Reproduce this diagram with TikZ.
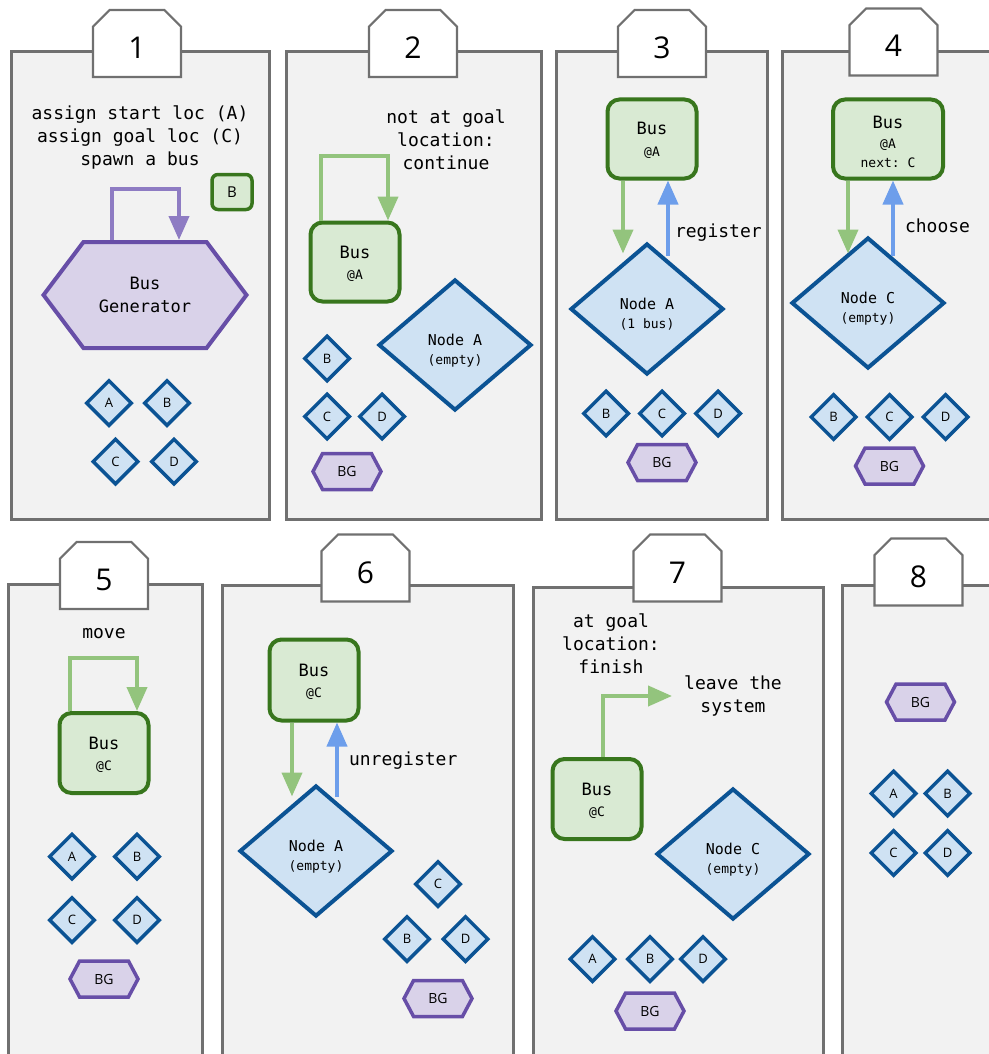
\documentclass[tikz,border=0pt]{standalone}
\usepackage{fontspec}
\setmainfont{Open Sans}
\setmonofont{DejaVu Sans Mono}
\usepackage{xcolor}
\usetikzlibrary{
    positioning,
    arrows.meta,
    shapes.geometric,
    shapes.misc,
    shapes.symbols,
    calc
}

\definecolor{panelfill}{HTML}{F2F2F2}
\definecolor{framegray}{HTML}{707070}
\definecolor{busfill}{HTML}{D9EAD3}
\definecolor{busline}{HTML}{38761D}
\definecolor{arrgreen}{HTML}{93C47D}
\definecolor{arrblue}{HTML}{6D9EEB}
\definecolor{stopfill}{HTML}{CFE2F3}
\definecolor{stopline}{HTML}{0B5394}
\definecolor{genfill}{HTML}{D9D2E9}
\definecolor{genline}{HTML}{674EA7}
\definecolor{arrpurple}{HTML}{8E7CC3}

\newcommand{\subtxt}[1]{{\fontsize{13}{16}\selectfont #1}}

\begin{document}
\begin{tikzpicture}[x=1pt, y=-1pt,
    panel/.style={draw=framegray, fill=panelfill, line width=3pt},
    tab/.style={chamfered rectangle, chamfered rectangle corners={north west,north east},
                chamfered rectangle xsep=8pt, chamfered rectangle ysep=10pt,
                draw=framegray, fill=white, line width=2.2pt, inner sep=0pt,
                minimum width=88pt, minimum height=67pt,
                font=\fontsize{30}{30}\selectfont, text height=30pt, text depth=0pt},
    note/.style={font=\ttfamily\fontsize{18}{23}\selectfont, align=center, inner sep=0pt},
    lbl/.style={font=\ttfamily\fontsize{18}{23}\selectfont, inner sep=0pt},
    bus/.style={draw=busline, fill=busfill, line width=4pt, rounded corners=12pt,
                minimum width=89pt, minimum height=79pt, inner sep=0pt, align=center,
                font=\ttfamily\fontsize{17}{21}\selectfont, text height=38pt, text depth=4pt},
    busmini/.style={draw=busline, fill=busfill, line width=3.5pt, rounded corners=6pt,
                minimum width=40pt, minimum height=35pt, inner sep=0pt,
                font=\fontsize{15}{15}\selectfont},
    stop/.style={diamond, aspect=1.17, draw=stopline, fill=stopfill, line width=4pt,
                minimum width=153pt, minimum height=131pt, inner sep=0pt, align=center,
                font=\ttfamily\fontsize{15}{19}\selectfont, text height=42pt, text depth=4pt},
    stopsm/.style={diamond, aspect=1, draw=stopline, fill=stopfill, line width=3.5pt,
                minimum width=46pt, minimum height=46pt, inner sep=0pt,
                font=\fontsize{13}{13}\selectfont},
    gen/.style={signal, signal to=west and east, signal pointer angle=106,
                draw=genline, fill=genfill, line width=4pt, inner sep=0pt,
                minimum width=203pt, minimum height=106pt, align=center,
                font=\ttfamily\fontsize{17}{23}\selectfont},
    gensm/.style={signal, signal to=west and east, signal pointer angle=124,
                draw=genline, fill=genfill, line width=3.5pt, inner sep=0pt,
                minimum width=68pt, minimum height=36pt,
                font=\fontsize{14}{14}\selectfont},
    garr/.style={draw=arrgreen, line width=4pt, -{Triangle[length=24pt,width=20pt]}},
    barr/.style={draw=arrblue, line width=4pt, -{Triangle[length=24pt,width=20pt]}},
    parr/.style={draw=arrpurple, line width=4pt, -{Triangle[length=24pt,width=20pt]}}]

    \useasboundingbox (0,0) rectangle (988,1054);

    % === 1: spawn ===
    \draw[panel] (11,52) rectangle (269,519);
    \node[tab] (t1) at (137,43.5) {1};
    \node[note] (say1) at (140,137) {assign start loc (A)\\assign goal loc (C)\\spawn a bus};
    \node[busmini] (bb1) at (232,192) {B};
    \node[gen] (gen1) at (145,295) {Bus\\Generator};
    \draw[parr] ($(gen1.north)+(-33,0)$) -- ++(0,-51) -| ($(gen1.north)+(34,0)$);
    \node[stopsm] (a1) at (109,403) {A};
    \node[stopsm] (b1) at (167,403) {B};
    \node[stopsm] (c1) at (115.5,461.5) {C};
    \node[stopsm] (d1) at (174,461.5) {D};

    % === 2: continue ===
    \draw[panel] (286,52) rectangle (541,519);
    \node[tab] (t2) at (413,43.5) {2};
    \node[note] (say2) at (446,140) {not at goal\\location:\\continue};
    \node[bus] (b2) at (355,262) {Bus\\\subtxt{@A}};
    \draw[garr] ($(b2.north)+(-34,0)$) -- ++(0,-65) -| ($(b2.north)+(33,0)$);
    \node[stop] (n2) at (455,345) {Node A\\\subtxt{(empty)}};
    \node[stopsm] (sb2) at (327,358.5) {B};
    \node[stopsm] (sc2) at (327,416.5) {C};
    \node[stopsm] (sd2) at (382,416.5) {D};
    \node[gensm] (bg2) at (347,471.5) {BG};

    % === 3: register ===
    \draw[panel] (556,52) rectangle (767,519);
    \node[tab] (t3) at (662,43.5) {3};
    \node[bus] (b3) at (652,139) {Bus\\\subtxt{@A}};
    \node[stop] (n3) at (647,309) {Node A\\\subtxt{(1 bus)}};
    \draw[garr] ($(b3.south)+(-29,0)$) -- ($(b3.south |- n3.north)+(-29,12)$);
    \draw[barr] ($(b3.south |- n3.north)+(16,14)$) -- node[lbl, pos=0.3, right=5pt]{register} ($(b3.south)+(16,0)$);
    \node[stopsm] (sb3) at (606,413.5) {B};
    \node[stopsm] (sc3) at (662,413.5) {C};
    \node[stopsm] (sd3) at (718,413.5) {D};
    \node[gensm] (bg3) at (662,462.5) {BG};

    % === 4: choose ===
    \draw[panel] (782,52) rectangle (995,519);
    \node[tab] (t4) at (893.5,42) {4};
    \node[bus, minimum width=110pt, text height=60pt] (b4) at (888,139) {Bus\\\subtxt{@A}\\[-3pt]\subtxt{next: C}};
    \node[stop] (n4) at (868,303) {Node C\\\subtxt{(empty)}};
    \draw[garr] ($(b4.south)+(-40,0)$) -- ($(b4.south |- n4.north)+(-40,18)$);
    \draw[barr] ($(b4.south |- n4.north)+(5,20)$) -- node[lbl, pos=0.4, right=10pt]{choose} ($(b4.south)+(5,0)$);
    \node[stopsm] (sb4) at (833.5,417) {B};
    \node[stopsm] (sc4) at (889.5,417) {C};
    \node[stopsm] (sd4) at (945.5,417) {D};
    \node[gensm] (bg4) at (889.5,466) {BG};

    % === 5: move ===
    \draw[panel] (8,584) rectangle (202,1064);
    \node[tab] (t5) at (104,575.5) {5};
    \node[note] (say5) at (104,634) {move};
    \node[bus, minimum height=80pt] (b5) at (104,753) {Bus\\\subtxt{@C}};
    \draw[garr] ($(b5.north)+(-34,0)$) -- ++(0,-53) -| ($(b5.north)+(33,0)$);
    \node[stopsm] (sa5) at (72,856.5) {A};
    \node[stopsm] (sb5) at (137,856.5) {B};
    \node[stopsm] (sc5) at (72,920) {C};
    \node[stopsm] (sd5) at (137,920) {D};
    \node[gensm] (bg5) at (104,979) {BG};

    % === 6: unregister ===
    \draw[panel] (222,585) rectangle (513,1064);
    \node[tab] (t6) at (365.5,568) {6};
    \node[bus, minimum height=81pt] (b6) at (314,680) {Bus\\\subtxt{@C}};
    \node[stop] (n6) at (316,851) {Node A\\\subtxt{(empty)}};
    \draw[garr] ($(b6.south)+(-22,0)$) -- ($(b6.south |- n6.north)+(-22,13)$);
    \draw[barr] ($(b6.south |- n6.north)+(23,13)$) -- node[lbl, pos=0.49, right=10pt]{unregister} ($(b6.south)+(23,0)$);
    \node[stopsm] (sc6) at (438,884) {C};
    \node[stopsm] (sb6) at (407,939) {B};
    \node[stopsm] (sd6) at (465.5,939) {D};
    \node[gensm] (bg6) at (438,998.5) {BG};

    % === 7: finish ===
    \draw[panel] (533,587) rectangle (823,1064);
    \node[tab] (t7) at (677.5,568) {7};
    \node[note] (say7) at (611,644) {at goal\\location:\\finish};
    \node[note] (lv) at (733,696) {leave the\\system};
    \node[bus, minimum height=80pt] (b7) at (597,799) {Bus\\\subtxt{@C}};
    \draw[garr] ($(b7.north)+(6,0)$) |- ($(lv.west)+(-12,0)$);
    \node[stop] (n7) at (733,854) {Node C\\\subtxt{(empty)}};
    \node[stopsm] (sa7) at (592.5,959) {A};
    \node[stopsm] (sb7) at (650,959) {B};
    \node[stopsm] (sd7) at (703,959) {D};
    \node[gensm] (bg7) at (650,1011) {BG};

    % === 8: done ===
    \draw[panel] (842,585) rectangle (995,1064);
    \node[tab] (t8) at (918.5,572) {8};
    \node[gensm] (bg8) at (920.5,702) {BG};
    \node[stopsm] (sa8) at (893.5,793.5) {A};
    \node[stopsm] (sb8) at (947.5,793.5) {B};
    \node[stopsm] (sc8) at (893.5,853) {C};
    \node[stopsm] (sd8) at (947.5,853) {D};

\end{tikzpicture}
\end{document}
